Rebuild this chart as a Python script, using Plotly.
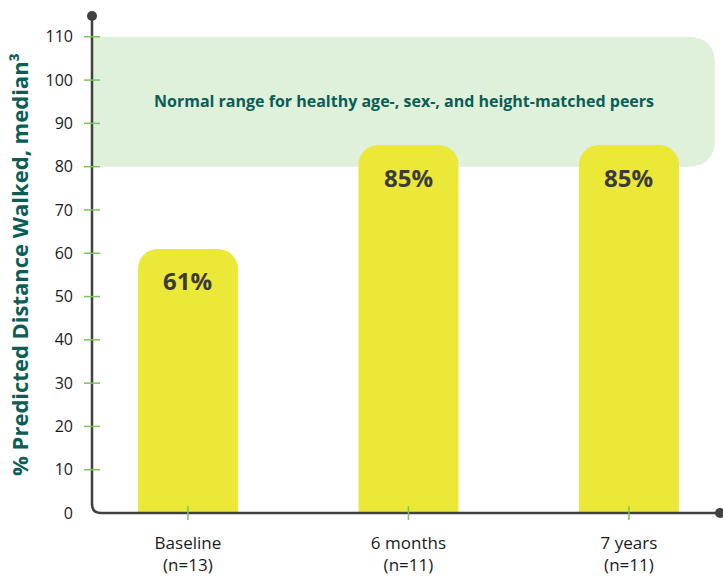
import plotly.graph_objects as go

# ---- data ----
categories = ["Baseline<br>(n=13)", "6 months<br>(n=11)", "7 years<br>(n=11)"]
values = [61, 85, 85]
bar_labels = ["61%", "85%", "85%"]
y_ticks = [0, 10, 20, 30, 40, 50, 60, 70, 80, 90, 100, 110]
band_low, band_high = 80, 110
band_text = "Normal range for healthy age-, sex-, and height-matched peers"
y_title = "% Predicted Distance Walked, median³"

# ---- layout constants ----
W_PX, H_PX = 723, 578
ML, MR, MT, MB = 92, 3, 16, 65
PW, PH = W_PX - ML - MR, H_PX - MT - MB
XR = [-0.435, 2.413]
YR = [0, 114.8]
sx = PW / (XR[1] - XR[0])
sy = PH / (YR[1] - YR[0])

FONT = "Open Sans"
BAR_COLOR = "#ebe837"
BAND_COLOR = "#dff1da"
TEAL = "#0b5d56"
AXIS_COLOR = "#404040"
TICK_GREEN = "#7cc35a"

x_pos = list(range(len(categories)))

fig = go.Figure()
fig.add_trace(go.Bar(
    x=x_pos, y=values, width=100 / sx,
    marker=dict(color=BAR_COLOR, line=dict(width=0)),
    hoverinfo="skip", showlegend=False,
))

shapes = []
# normal range band with rounded right corners
x0 = XR[0]
x1 = XR[0] + (715 - ML) / sx
rx, ry = 28 / sx, 28 / sy
band_path = (f"M {x0},{band_low} L {x1 - rx},{band_low} Q {x1},{band_low} {x1},{band_low + ry} "
             f"L {x1},{band_high - ry} Q {x1},{band_high} {x1 - rx},{band_high} L {x0},{band_high} Z")
shapes.append(dict(type="path", path=band_path, xref="x", yref="y",
                   fillcolor=BAND_COLOR, line=dict(width=0), layer="below"))

# axes with rounded corner
cx, cy = 9 / PW, 9 / PH
axis_path = f"M 0,1 L 0,{cy} Q 0,0 {cx},0 L 1,0"
shapes.append(dict(type="path", path=axis_path, xref="paper", yref="paper",
                   line=dict(color=AXIS_COLOR, width=2.5), layer="above"))
# end dots
for (px, py) in [(0, 1), (1, 0)]:
    shapes.append(dict(type="circle", xref="paper", yref="paper",
                       xsizemode="pixel", ysizemode="pixel", xanchor=px, yanchor=py,
                       x0=-5, x1=5, y0=-5, y1=5,
                       fillcolor=AXIS_COLOR, line=dict(width=0), layer="above"))
# y ticks crossing axis
for v in y_ticks[1:]:
    shapes.append(dict(type="line", xref="paper", yref="y", xsizemode="pixel", xanchor=0,
                       x0=-8, x1=8, y0=v, y1=v,
                       line=dict(color=TICK_GREEN, width=1.5), layer="above"))
# x ticks crossing axis
for i in x_pos:
    shapes.append(dict(type="line", xref="x", yref="paper", ysizemode="pixel", yanchor=0,
                       x0=i, x1=i, y0=-7, y1=7,
                       line=dict(color=TICK_GREEN, width=1.5), layer="above"))

annotations = []
for i, v, lab in zip(x_pos, values, bar_labels):
    annotations.append(dict(x=i, y=v, xref="x", yref="y", text=f"<b>{lab}</b>",
                            showarrow=False, yshift=-32,
                            font=dict(family=FONT, size=24, color="#3b3b3b")))
annotations.append(dict(x=(x0 + x1) / 2, y=(band_low + band_high) / 2, xref="x", yref="y",
                        text=f"<b>{band_text}</b>", showarrow=False, yshift=1,
                        font=dict(family=FONT, size=16, color=TEAL)))

fig.update_layout(
    width=W_PX, height=H_PX,
    margin=dict(l=ML, r=MR, t=MT, b=MB, autoexpand=False),
    paper_bgcolor="white", plot_bgcolor="white",
    barcornerradius=20,
    shapes=shapes, annotations=annotations,
    font=dict(family=FONT, color="#1a1a1a"),
    xaxis=dict(range=XR, tickvals=x_pos, ticktext=categories, showgrid=False,
               zeroline=False, showline=False, ticks="", ticklabelstandoff=18,
               tickfont=dict(family=FONT, size=17, color="#1a1a1a"), fixedrange=True),
    yaxis=dict(range=YR, tickvals=y_ticks, showgrid=False, zeroline=False, showline=False,
               ticks="", ticklabelstandoff=18,
               tickfont=dict(family=FONT, size=16, color="#1a1a1a"),
               title=dict(text=f"<b>{y_title}</b>", standoff=10,
                          font=dict(family=FONT, size=22, color=TEAL)),
               fixedrange=True),
)

fig.write_html("out.html", post_script="document.body.style.margin='0';",
               config={"displayModeBar": False})
